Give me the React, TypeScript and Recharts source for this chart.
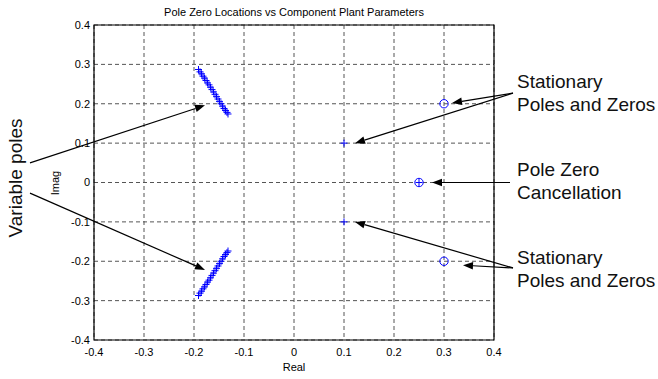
import {
  ScatterChart,
  Scatter,
  XAxis,
  YAxis,
  CartesianGrid,
  ReferenceLine,
  ReferenceArea,
} from 'recharts';

// Axis ticks (both axes run -0.4 .. 0.4)
const AXIS_TICKS = [-0.4, -0.3, -0.2, -0.1, 0, 0.1, 0.2, 0.3, 0.4];

// Variable poles, upper branch
const upperPoleRe = [-0.191, -0.188, -0.185, -0.182, -0.179, -0.176, -0.173, -0.17, -0.167, -0.164, -0.161, -0.158, -0.155, -0.152, -0.149, -0.146, -0.143, -0.14, -0.137, -0.134, -0.132];
const upperPoleIm = [0.287, 0.281, 0.276, 0.27, 0.265, 0.259, 0.253, 0.248, 0.242, 0.236, 0.23, 0.224, 0.218, 0.212, 0.206, 0.2, 0.194, 0.188, 0.183, 0.178, 0.174];

// Variable poles, lower branch
const lowerPoleRe = [-0.191, -0.188, -0.185, -0.182, -0.179, -0.176, -0.173, -0.17, -0.167, -0.164, -0.161, -0.158, -0.155, -0.152, -0.149, -0.146, -0.143, -0.14, -0.137, -0.134, -0.132];
const lowerPoleIm = [-0.287, -0.281, -0.276, -0.27, -0.265, -0.259, -0.253, -0.248, -0.242, -0.236, -0.23, -0.224, -0.218, -0.212, -0.206, -0.2, -0.194, -0.188, -0.183, -0.178, -0.174];

// Stationary poles (x) and zeros (o)
const fixedPoleRe = [0.1, 0.1, 0.25];
const fixedPoleIm = [0.1, -0.1, 0];
const zeroRe = [0.3, 0.3, 0.25];
const zeroIm = [0.2, -0.2, 0];

// Annotation arrows [tailRe, tailIm, headRe, headIm]
const arrows = [
  [-0.528, 0.05, -0.178, 0.196],
  [-0.528, -0.027, -0.178, -0.222],
  [0.438, 0.227, 0.316, 0.202],
  [0.438, 0.227, 0.122, 0.1],
  [0.432, 0, 0.276, 0],
  [0.438, -0.217, 0.338, -0.21],
  [0.438, -0.217, 0.122, -0.1],
];

const toPoints = (re: number[], im: number[]) => re.map((x, i) => ({ x, y: im[i] }));

const BLUE = '#0000ff';
const FONT = '"Liberation Sans", Arial, Helvetica, sans-serif';

const PlusMark = (props: any) => {
  const { cx, cy } = props;
  return (
    <g>
      <line x1={cx - 3.5} y1={cy} x2={cx + 3.5} y2={cy} stroke={BLUE} strokeWidth={1} />
      <line x1={cx} y1={cy - 3.5} x2={cx} y2={cy + 3.5} stroke={BLUE} strokeWidth={1} />
    </g>
  );
};

const CircleMark = (props: any) => {
  const { cx, cy } = props;
  return <circle cx={cx} cy={cy} r={4.2} fill="none" stroke={BLUE} strokeWidth={1} />;
};

const ArrowShape = (props: any) => {
  const { x1, y1, x2, y2 } = props;
  const ang = Math.atan2(y2 - y1, x2 - x1);
  const len = 10;
  const half = 3.8;
  const bx = x2 - len * Math.cos(ang);
  const by = y2 - len * Math.sin(ang);
  const px = -Math.sin(ang) * half;
  const py = Math.cos(ang) * half;
  return (
    <g>
      <line x1={x1} y1={y1} x2={bx} y2={by} stroke="#000" strokeWidth={1.2} />
      <polygon points={`${x2},${y2} ${bx + px},${by + py} ${bx - px},${by - py}`} fill="#000" />
    </g>
  );
};

const fmt = (v: number) => (v === 0 ? '0' : String(v));

export default function App() {
  const annStyle = {
    position: 'absolute' as const,
    left: 517,
    fontFamily: FONT,
    fontSize: 19,
    lineHeight: '23px',
    color: '#111',
    whiteSpace: 'nowrap' as const,
  };

  return (
    <div
      style={{
        position: 'absolute',
        left: 0,
        top: 0,
        width: 658,
        height: 379,
        background: '#fff',
        overflow: 'hidden',
      }}
    >
      <ScatterChart
        width={658}
        height={379}
        margin={{ top: 25, right: 164, bottom: 0, left: 0 }}
        style={{ fontFamily: FONT }}
      >
        <CartesianGrid stroke="#555" strokeDasharray="4 3" />
        <XAxis
          type="number"
          dataKey="x"
          domain={[-0.4, 0.4]}
          ticks={AXIS_TICKS}
          interval={0}
          height={39}
          tickSize={0}
          tickMargin={8}
          tickFormatter={fmt}
          axisLine={false}
          tick={{ fill: '#000', fontSize: 11 }}
          allowDataOverflow
        />
        <YAxis
          type="number"
          dataKey="y"
          domain={[-0.4, 0.4]}
          ticks={AXIS_TICKS}
          interval={0}
          width={94}
          tickSize={0}
          tickMargin={4}
          tickFormatter={fmt}
          axisLine={false}
          tick={{ fill: '#000', fontSize: 11 }}
          allowDataOverflow
        />
        <ReferenceArea
          x1={-0.4}
          x2={0.4}
          y1={-0.4}
          y2={0.4}
          fill="none"
          fillOpacity={0}
          stroke="#000"
          strokeWidth={1.2}
          ifOverflow="visible"
        />
        <Scatter data={toPoints(upperPoleRe, upperPoleIm)} shape={PlusMark} isAnimationActive={false} />
        <Scatter data={toPoints(lowerPoleRe, lowerPoleIm)} shape={PlusMark} isAnimationActive={false} />
        <Scatter data={toPoints(fixedPoleRe, fixedPoleIm)} shape={PlusMark} isAnimationActive={false} />
        <Scatter data={toPoints(zeroRe, zeroIm)} shape={CircleMark} isAnimationActive={false} />
        {arrows.map((a, i) => (
          <ReferenceLine
            key={i}
            segment={[
              { x: a[0], y: a[1] },
              { x: a[2], y: a[3] },
            ]}
            ifOverflow="visible"
            shape={ArrowShape}
          />
        ))}
      </ScatterChart>

      <svg
        width={658}
        height={379}
        style={{ position: 'absolute', left: 0, top: 0, pointerEvents: 'none' }}
      >
        <text x={294} y={16} textAnchor="middle" fontFamily={FONT} fontSize={11} fill="#000">
          Pole Zero Locations vs Component Plant Parameters
        </text>
        <text x={294} y={371} textAnchor="middle" fontFamily={FONT} fontSize={11} fill="#000">
          Real
        </text>
        <text
          x={0}
          y={0}
          transform="translate(59,183) rotate(-90)"
          textAnchor="middle"
          fontFamily={FONT}
          fontSize={11}
          fill="#000"
        >
          Imag
        </text>
        <text
          x={0}
          y={0}
          transform="translate(22,178) rotate(-90)"
          textAnchor="middle"
          fontFamily={FONT}
          fontSize={19}
          fill="#111"
        >
          Variable poles
        </text>
      </svg>

      <div style={{ ...annStyle, top: 70 }}>
        Stationary
        <br />
        Poles and Zeros
      </div>
      <div style={{ ...annStyle, top: 158 }}>
        Pole Zero
        <br />
        Cancellation
      </div>
      <div style={{ ...annStyle, top: 246 }}>
        Stationary
        <br />
        Poles and Zeros
      </div>
    </div>
  );
}
